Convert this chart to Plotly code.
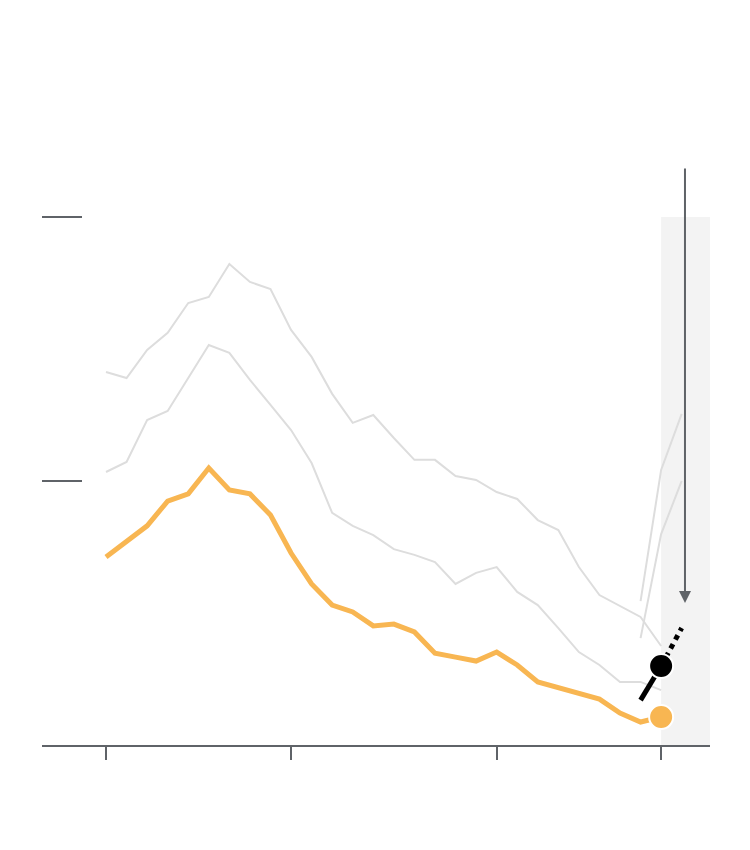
import plotly.graph_objects as go

# years on the x axis, last one is the shaded "current" year
years = list(range(1990, 2018))
tick_years = [1990, 1999, 2009, 2017]

orange_vals = [7.12, 7.73, 8.30, 9.24, 9.51, 10.49, 9.66, 9.51, 8.71, 7.27,
               6.10, 5.30, 5.04, 4.51, 4.58, 4.28, 3.48, 3.33, 3.18, 3.52,
               3.03, 2.39, 2.16, 1.93, 1.74, 1.21, 0.87, 1.06]

upper_gray = [14.13, 13.90, 14.96, 15.61, 16.74, 16.97, 18.22, 17.54, 17.27, 15.72,
              14.70, 13.30, 12.20, 12.50, 11.63, 10.80, 10.80, 10.19, 10.04, 9.58,
              9.32, 8.52, 8.14, 6.74, 5.68, 5.27, 4.85, 3.75]

lower_gray = [10.34, 10.72, 12.31, 12.65, 13.90, 15.15, 14.85, 13.83, 12.88, 11.93,
              10.68, 8.79, 8.30, 7.95, 7.42, 7.20, 6.93, 6.10, 6.52, 6.74,
              5.80, 5.30, 4.43, 3.52, 3.03, 2.39, 2.39, 2.08]

# short projection lines at the end
proj_years = [2016, 2017, 2018]
upper_proj = [5.45, 10.42, 12.54]
lower_proj = [4.05, 7.99, 10.0]
black_solid = [1.70, 2.99]
black_dotted = [2.99, 4.43]

arrow_x = 2018.16
arrow_top = 21.89
arrow_tip = 5.38

x_range = [1986.887, 2019.377]
y_range = [0, 24.43]
shade_top = 20

axis_color = '#5f6368'
gray = '#dddddd'
orange = '#f8b652'

fig = go.Figure()

fig.add_shape(type='rect', x0=years[-1], x1=x_range[1], y0=0, y1=shade_top,
              fillcolor='#f3f3f3', line_width=0, layer='below')

for vals in (upper_gray, lower_gray):
    fig.add_trace(go.Scatter(x=years, y=vals, mode='lines',
                             line=dict(color=gray, width=2), hoverinfo='skip'))

for vals in (upper_proj, lower_proj):
    fig.add_trace(go.Scatter(x=proj_years, y=vals, mode='lines',
                             line=dict(color=gray, width=2), hoverinfo='skip'))

fig.add_trace(go.Scatter(x=years, y=orange_vals, mode='lines',
                         line=dict(color=orange, width=5)))
fig.add_trace(go.Scatter(x=years[-1:], y=orange_vals[-1:], mode='markers',
                         marker=dict(color=orange, size=24,
                                     line=dict(color='white', width=2))))

fig.add_trace(go.Scatter(x=proj_years[:2], y=black_solid, mode='lines',
                         line=dict(color='black', width=5)))
fig.add_trace(go.Scatter(x=proj_years[1:], y=black_dotted, mode='lines',
                         line=dict(color='black', width=5, dash='dot')))
fig.add_trace(go.Scatter(x=proj_years[1:2], y=black_solid[1:], mode='markers',
                         marker=dict(color='black', size=24,
                                     line=dict(color='white', width=2))))

fig.add_annotation(x=arrow_x, y=arrow_tip, ax=arrow_x, ay=arrow_top,
                   xref='x', yref='y', axref='x', ayref='y', text='',
                   showarrow=True, arrowhead=2, arrowsize=1.2, arrowwidth=2,
                   arrowcolor=axis_color, standoff=0)

# page body adds an 8px margin, so the margins are shifted to compensate
fig.update_layout(
    width=750, height=850,
    margin=dict(l=34, r=48, t=92, b=113),
    template='plotly_white',
    plot_bgcolor='white',
    showlegend=False,
)

fig.update_xaxes(range=x_range, showgrid=False, zeroline=False,
                 showline=True, linecolor=axis_color, linewidth=2,
                 ticks='outside', ticklen=13, tickwidth=2, tickcolor=axis_color,
                 tickvals=tick_years, showticklabels=False)
fig.update_yaxes(range=y_range, showgrid=False, zeroline=False,
                 showline=False, ticks='inside', ticklen=40, tickwidth=2,
                 tickcolor=axis_color, tickvals=[10, 20], showticklabels=False)

fig.write_html("out.html")
